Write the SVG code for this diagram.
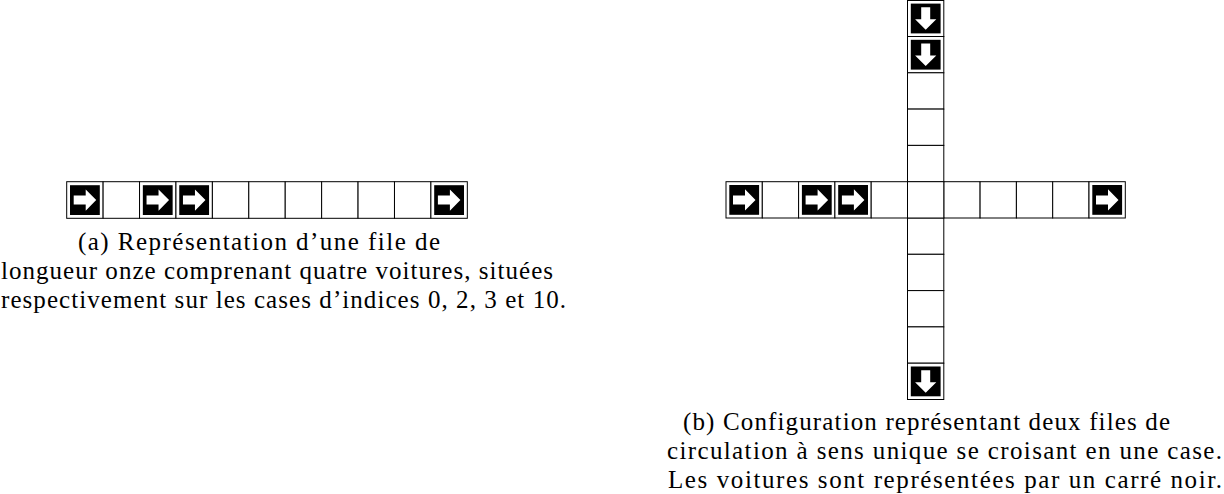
<svg xmlns="http://www.w3.org/2000/svg" xmlns:xlink="http://www.w3.org/1999/xlink" width="1224" height="494" viewBox="0 0 1224 494">
<style>
.cell{fill:#fff;stroke:#000;stroke-width:1}
.cap{font-family:"Liberation Serif","DejaVu Serif",serif;font-size:25px;fill:#000}
</style>
<defs>
<g id="carR">
<rect x="3.3" y="3.3" width="29.8" height="29.8" fill="#000"/>
<polygon points="7,13.7 19,13.7 19,7.6 29.5,18.2 19,28.8 19,22.7 7,22.7" fill="#fff"/>
</g>
<g id="carD">
<use xlink:href="#carR" href="#carR" transform="rotate(90 18.2 18.2)"/>
</g>
</defs>
<rect width="1224" height="494" fill="#fff"/>

<g id="fileA">
<g id="a0"><rect class="cell" x="66.7" y="181.7" width="36.42" height="36.6"/><use href="#carR" xlink:href="#carR" x="66.7" y="181.9"/></g>
<g id="a1"><rect class="cell" x="103.12" y="181.7" width="36.42" height="36.6"/></g>
<g id="a2"><rect class="cell" x="139.54" y="181.7" width="36.42" height="36.6"/><use href="#carR" xlink:href="#carR" x="139.54" y="181.9"/></g>
<g id="a3"><rect class="cell" x="175.96" y="181.7" width="36.42" height="36.6"/><use href="#carR" xlink:href="#carR" x="175.96" y="181.9"/></g>
<g id="a4"><rect class="cell" x="212.38" y="181.7" width="36.42" height="36.6"/></g>
<g id="a5"><rect class="cell" x="248.8" y="181.7" width="36.42" height="36.6"/></g>
<g id="a6"><rect class="cell" x="285.22" y="181.7" width="36.42" height="36.6"/></g>
<g id="a7"><rect class="cell" x="321.64" y="181.7" width="36.42" height="36.6"/></g>
<g id="a8"><rect class="cell" x="358.06" y="181.7" width="36.42" height="36.6"/></g>
<g id="a9"><rect class="cell" x="394.48" y="181.7" width="36.42" height="36.6"/></g>
<g id="a10"><rect class="cell" x="430.9" y="181.7" width="36.42" height="36.6"/><use href="#carR" xlink:href="#carR" x="430.9" y="181.9"/></g>
</g>

<g id="fileH">
<g id="h0"><rect class="cell" x="726" y="181.7" width="36.3" height="36.3"/><use href="#carR" xlink:href="#carR" x="726" y="181.7"/></g>
<g id="h1"><rect class="cell" x="762.3" y="181.7" width="36.3" height="36.3"/></g>
<g id="h2"><rect class="cell" x="798.6" y="181.7" width="36.3" height="36.3"/><use href="#carR" xlink:href="#carR" x="798.6" y="181.7"/></g>
<g id="h3"><rect class="cell" x="834.9" y="181.7" width="36.3" height="36.3"/><use href="#carR" xlink:href="#carR" x="834.9" y="181.7"/></g>
<g id="h4"><rect class="cell" x="871.2" y="181.7" width="36.3" height="36.3"/></g>
<g id="h6"><rect class="cell" x="943.8" y="181.7" width="36.3" height="36.3"/></g>
<g id="h7"><rect class="cell" x="980.1" y="181.7" width="36.3" height="36.3"/></g>
<g id="h8"><rect class="cell" x="1016.4" y="181.7" width="36.3" height="36.3"/></g>
<g id="h9"><rect class="cell" x="1052.7" y="181.7" width="36.3" height="36.3"/></g>
<g id="h10"><rect class="cell" x="1089" y="181.7" width="36.3" height="36.3"/><use href="#carR" xlink:href="#carR" x="1089" y="181.7"/></g>
</g>

<g id="fileV">
<g id="v0"><rect class="cell" x="907.5" y="0.5" width="36.3" height="36"/><use href="#carD" xlink:href="#carD" x="907.5" y="0.3"/></g>
<g id="v1"><rect class="cell" x="907.5" y="36.5" width="36.3" height="36.3"/><use href="#carD" xlink:href="#carD" x="907.5" y="36.5"/></g>
<g id="v2"><rect class="cell" x="907.5" y="72.8" width="36.3" height="36.3"/></g>
<g id="v3"><rect class="cell" x="907.5" y="109.1" width="36.3" height="36.3"/></g>
<g id="v4"><rect class="cell" x="907.5" y="145.4" width="36.3" height="36.3"/></g>
<g id="v6"><rect class="cell" x="907.5" y="218" width="36.3" height="36.3"/></g>
<g id="v7"><rect class="cell" x="907.5" y="254.3" width="36.3" height="36.3"/></g>
<g id="v8"><rect class="cell" x="907.5" y="290.6" width="36.3" height="36.3"/></g>
<g id="v9"><rect class="cell" x="907.5" y="326.9" width="36.3" height="36.3"/></g>
<g id="v10"><rect class="cell" x="907.5" y="363.2" width="36.3" height="36.3"/><use href="#carD" xlink:href="#carD" x="907.5" y="363.2"/></g>
</g>

<g id="center"><rect class="cell" x="907.5" y="181.7" width="36.3" height="36.3"/></g>

<g id="captionA">
<text class="cap" x="78" y="250" textLength="362" lengthAdjust="spacing">(a) Représentation d’une file de</text>
<text class="cap" x="1" y="279" textLength="552" lengthAdjust="spacing">longueur onze comprenant quatre voitures, situées</text>
<text class="cap" x="1" y="308" textLength="565" lengthAdjust="spacing">respectivement sur les cases d’indices 0, 2, 3 et 10.</text>
</g>

<g id="captionB">
<text class="cap" x="683" y="430" textLength="487" lengthAdjust="spacing">(b) Configuration représentant deux files de</text>
<text class="cap" x="667" y="459" textLength="555" lengthAdjust="spacing">circulation à sens unique se croisant en une case.</text>
<text class="cap" x="668" y="488" textLength="554" lengthAdjust="spacing">Les voitures sont représentées par un carré noir.</text>
</g>
</svg>
